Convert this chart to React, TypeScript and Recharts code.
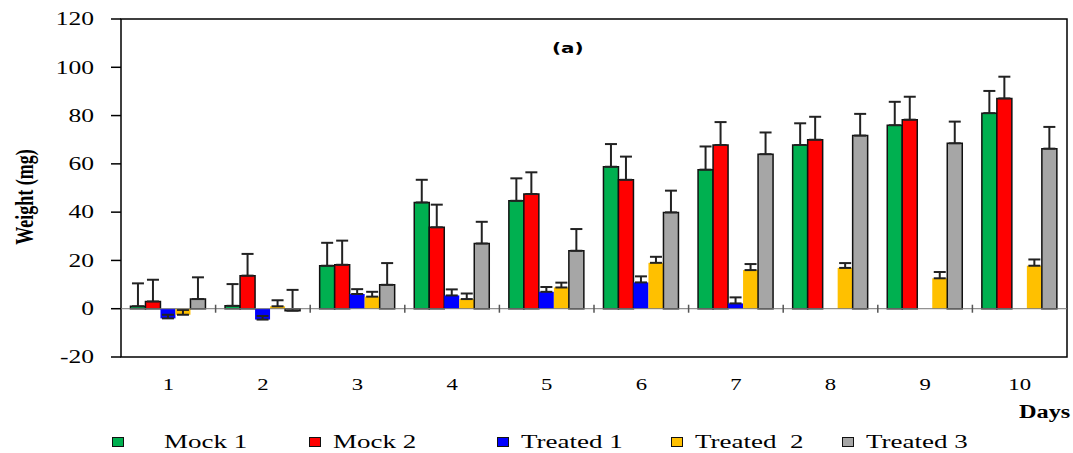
import React from 'react';
import {
  BarChart,
  Bar,
  XAxis,
  YAxis,
  ErrorBar,
  ReferenceLine,
  ReferenceArea,
} from 'recharts';

const days = ['1', '2', '3', '4', '5', '6', '7', '8', '9', '10'];

const mock1 = [1, 1.2, 17.8, 44, 44.7, 58.8, 57.6, 67.8, 76, 81];
const mock2 = [3, 13.7, 18.2, 33.7, 47.5, 53.4, 67.8, 70, 78.3, 87.1];
const treated1 = [-4, -4.5, 6.1, 5.5, 7, 10.9, 2.2, null, null, null];
const treated2 = [-2.5, 1, 5, 4, 8.8, 19, 16, 16.9, 12.6, 17.8];
const treated3 = [4, -0.8, 9.9, 27, 24, 39.9, 64, 71.7, 68.5, 66.3];

const mock1Err = [9.5, 9, 9.5, 9.4, 9.3, 9.4, 9.6, 9, 9.7, 9.2];
const mock2Err = [9, 9, 10, 9.4, 9, 9.6, 9.5, 9.5, 9.5, 9];
const treated1Err = [1.5, 1.5, 2, 2.5, 2, 2.5, 2.5, null, null, null];
const treated2Err = [2, 2.5, 2, 2.3, 2, 2.5, 2.5, 2, 2.6, 2.6];
const treated3Err = [9, 8.6, 9, 9, 9, 9, 9, 9, 9, 9];

const yTicks = [-20, 0, 20, 40, 60, 80, 100, 120];

const series = [
  { key: 'm1', name: 'Mock 1', color: '#00B050', values: mock1, errs: mock1Err, outline: true },
  { key: 'm2', name: 'Mock 2', color: '#FF0000', values: mock2, errs: mock2Err, outline: true },
  { key: 't1', name: 'Treated 1', color: '#0000FF', values: treated1, errs: treated1Err, outline: false },
  { key: 't2', name: 'Treated  2', color: '#FFC000', values: treated2, errs: treated2Err, outline: false },
  { key: 't3', name: 'Treated 3', color: '#A6A6A6', values: treated3, errs: treated3Err, outline: true },
];

const data = days.map((day, i) => {
  const row: Record<string, any> = { day };
  series.forEach((s) => {
    const v = s.values[i];
    const e = s.errs[i];
    row[s.key] = v;
    row[s.key + 'Err'] = v == null || e == null ? null : [0, e];
  });
  return row;
});

const serif = 'Liberation Serif';
// the source figure is stretched sideways, so the text is too
const stretch = 1.42;

// legend spots copied from the figure, it isn't evenly spaced
const legendPos = [112, 309, 497, 671, 842];

const YTick = (props: any) => {
  const { x, y, payload } = props;
  return (
    <g transform={`translate(${x},${y})`}>
      <text transform={`scale(${stretch},1)`} textAnchor="end" dy="0.35em" fontFamily={serif} fontSize={18} fill="#000">
        {payload.value}
      </text>
    </g>
  );
};

const XTick = (props: any) => {
  const { x, y, payload } = props;
  return (
    <g transform={`translate(${x},${y})`}>
      <text transform={`scale(${stretch},1)`} textAnchor="middle" dy="0.71em" fontFamily={serif} fontSize={16} fill="#000">
        {payload.value}
      </text>
    </g>
  );
};

const ZeroLine = (props: any) => {
  const { x1, x2, y1 } = props;
  const n = days.length;
  const step = (x2 - x1) / n;
  const ticks = [];
  for (let i = 1; i < n; i++) {
    const x = x1 + step * i;
    ticks.push(<line key={i} x1={x} x2={x} y1={y1 - 4} y2={y1 + 4} stroke="#555" strokeWidth={1.5} />);
  }
  return (
    <g>
      <line x1={x1} x2={x2} y1={y1} y2={y1} stroke="#777" strokeWidth={1} />
      {ticks}
    </g>
  );
};

const App: React.FC = () => {
  return (
    <div style={{ position: 'absolute', left: 0, top: 0, width: 1073, height: 453, background: '#fff' }}>
      <BarChart
        width={1073}
        height={453}
        data={data}
        margin={{ top: 19, right: 6, left: 0, bottom: 0 }}
        barCategoryGap="10%"
        barGap={0}
      >
        <XAxis
          dataKey="day"
          height={96}
          axisLine={false}
          tickLine={false}
          tickSize={0}
          tickMargin={22}
          tick={<XTick />}
        />
        <YAxis
          width={121}
          domain={[-20, 120]}
          ticks={yTicks}
          allowDataOverflow
          axisLine={false}
          tickSize={10}
          tickMargin={17}
          tickLine={{ stroke: '#000', strokeWidth: 1.5 }}
          tick={<YTick />}
        />
        <ReferenceArea y1={-20} y2={120} fill="none" stroke="#000" strokeWidth={1.5} ifOverflow="visible" />
        {series.map((s) => (
          <Bar
            key={s.key}
            dataKey={s.key}
            name={s.name}
            fill={s.color}
            stroke={s.outline ? '#111' : 'none'}
            strokeWidth={1.5}
            isAnimationActive={false}
          >
            <ErrorBar dataKey={s.key + 'Err'} width={6} stroke="#222" strokeWidth={2} direction="y" />
          </Bar>
        ))}
        <ReferenceLine y={0} shape={ZeroLine} />
      </BarChart>

      <div
        style={{
          position: 'absolute',
          left: 25,
          top: 197,
          transform: `translate(-50%, -50%) scaleX(${stretch}) rotate(-90deg)`,
          fontFamily: serif,
          fontWeight: 'bold',
          fontSize: 18,
          whiteSpace: 'nowrap',
        }}
      >
        Weight (mg)
      </div>
      <div
        style={{
          position: 'absolute',
          left: 552,
          top: 40,
          transform: `scaleX(${stretch})`,
          transformOrigin: 'left center',
          fontFamily: 'DejaVu Sans',
          fontWeight: 'bold',
          fontSize: 14,
        }}
      >
        (a)
      </div>
      <div
        style={{
          position: 'absolute',
          left: 1019,
          top: 402,
          transform: `scaleX(1.35)`,
          transformOrigin: 'left center',
          fontFamily: serif,
          fontWeight: 'bold',
          fontSize: 18,
        }}
      >
        Days
      </div>
      {series.map((s, i) => (
        <div
          key={s.key}
          style={{
            position: 'absolute',
            left: legendPos[i],
            top: 431,
            display: 'flex',
            alignItems: 'center',
            fontFamily: serif,
            fontSize: 19,
            whiteSpace: 'pre',
          }}
        >
          <span
            style={{
              display: 'inline-block',
              width: 10,
              height: 8,
              background: s.color,
              border: '1.5px solid #111',
              marginRight: i === 0 ? 40 : 12,
            }}
          />
          <span style={{ display: 'inline-block', transform: `scaleX(${stretch})`, transformOrigin: 'left center' }}>
            {s.name}
          </span>
        </div>
      ))}
    </div>
  );
};

export default App;
